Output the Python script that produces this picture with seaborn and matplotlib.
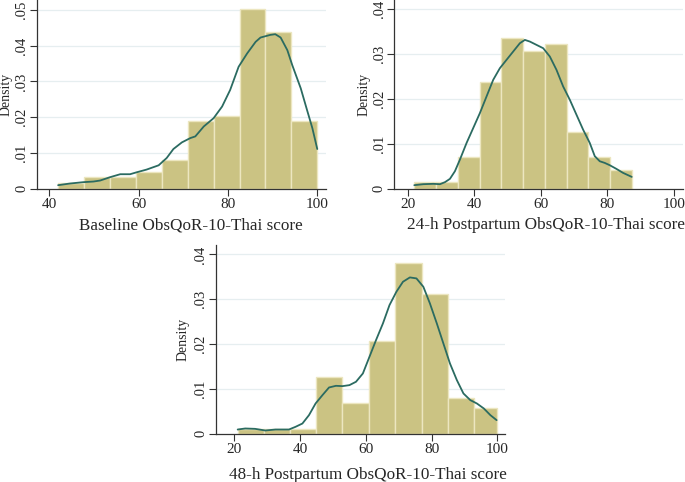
import numpy as np
import seaborn as sns
import matplotlib.pyplot as plt

# --- Baseline
base_edges = [42.0, 47.8, 53.6, 59.4, 65.2, 71.0, 76.8, 82.6, 88.4, 94.2, 100.0]
base_dens = [0.00167, 0.00316, 0.00316, 0.00474, 0.0079, 0.01877, 0.02035, 0.0502, 0.04396, 0.01877]
base_kx = [42.0, 44.6, 47.6, 49.9, 51.4, 53.6, 55.9, 58.1, 59.6, 61.8, 64.5, 66.3, 67.8, 69.7,
           71.6, 72.7, 74.6, 76.8, 78.7, 80.5, 82.4, 84.3, 86.2, 87.3, 88.4, 89.5, 90.6, 91.8,
           93.3, 94.4, 96.3, 97.7, 98.9, 100.0]
base_ky = [0.00093, 0.00139, 0.00177, 0.00195, 0.00223, 0.00316, 0.0040, 0.0040, 0.00455, 0.0053,
           0.0065, 0.00855, 0.01106, 0.01292, 0.01413, 0.01459, 0.01738, 0.0197, 0.02296, 0.0276,
           0.03411, 0.03783, 0.04108, 0.04229, 0.04266, 0.04303, 0.04322, 0.04229, 0.03875,
           0.03457, 0.02807, 0.02203, 0.01691, 0.01106]

# --- 24-h postpartum
pp24_edges = [22.0, 28.53, 35.06, 41.59, 48.12, 54.65, 61.18, 67.71, 74.24, 80.77, 87.3]
pp24_dens = [0.0014, 0.0014, 0.00704, 0.02378, 0.03356, 0.03074, 0.03222, 0.01259, 0.00704, 0.00422]
pp24_kx = [22.0, 24.7, 27.7, 29.7, 31.2, 32.7, 34.2, 35.7, 37.7, 39.7, 41.7, 43.7, 45.7, 47.7,
           49.7, 51.7, 53.7, 55.2, 56.7, 58.7, 60.7, 62.7, 64.7, 66.7, 68.7, 70.7, 72.7, 74.7,
           76.2, 77.7, 79.2, 80.7, 82.7, 84.7, 87.3]
pp24_ky = [0.00074, 0.00096, 0.00104, 0.00096, 0.00141, 0.00215, 0.00385, 0.00644, 0.01015,
           0.01348, 0.01681, 0.02052, 0.02422, 0.02681, 0.02867, 0.03052, 0.03237, 0.03311,
           0.03274, 0.032, 0.03126, 0.02941, 0.02644, 0.02274, 0.01978, 0.01644, 0.01311,
           0.01015, 0.0072, 0.00607, 0.0057, 0.00519, 0.00437, 0.00348, 0.00259]

# --- 48-h postpartum
pp48_edges = [21.0, 28.9, 36.8, 44.7, 52.8, 61.0, 68.9, 77.0, 84.9, 92.8, 100.0]
pp48_dens = [0.0011, 0.0011, 0.0011, 0.01266, 0.00685, 0.02071, 0.03814, 0.03114, 0.00797, 0.00574]
pp48_kx = [21.0, 23.3, 26.3, 29.4, 32.5, 36.6, 38.6, 40.7, 42.7, 44.7, 46.8, 48.8, 50.9, 52.9,
           55.0, 57.0, 59.1, 61.1, 63.1, 65.2, 67.2, 69.3, 71.3, 73.4, 75.4, 77.5, 79.5, 81.6,
           83.6, 85.6, 87.7, 89.7, 91.8, 93.8, 95.9, 97.9, 99.8]
pp48_ky = [0.00089, 0.00112, 0.00104, 0.00067, 0.00089, 0.00089, 0.00149, 0.00223, 0.0041,
           0.0067, 0.00857, 0.01028, 0.01065, 0.01058, 0.0108, 0.01155, 0.01341, 0.01713,
           0.02086, 0.02458, 0.02868, 0.03166, 0.03389, 0.03486, 0.03464, 0.03277, 0.02905,
           0.02458, 0.0201, 0.01564, 0.01192, 0.00894, 0.00745, 0.0067, 0.00559, 0.0041, 0.00298]

xlabels = ["Baseline ObsQoR-10-Thai score",
           "24-h Postpartum ObsQoR-10-Thai score",
           "48-h Postpartum ObsQoR-10-Thai score"]

sns.set_style("white")
plt.rcParams['font.family'] = ['Liberation Serif', 'DejaVu Serif']

bar_col = "#cbc383"
line_col = "#2b6b61"

fig = plt.figure(figsize=(6.85, 4.82), dpi=100)

panels = [
    # rect, edges, dens, kx, ky, xlim, ylim, xticks, yticks, xlabel, ylabel x, xlabel x, xlabel pad
    ([36.7/685, 1-188.5/482, 289.5/685, 188.5/482], base_edges, base_dens, base_kx, base_ky,
     (37.2, 102.0), (0, 0.0528), [40, 60, 80, 100], [0, .01, .02, .03, .04, .05], xlabels[0],
     -0.082, 0.533, 4.5),
    ([394/685, 1-188.5/482, 289/685, 188.5/482], pp24_edges, pp24_dens, pp24_kx, pp24_ky,
     (15.9, 102.7), (0, 0.042), [20, 40, 60, 80, 100], [0, .01, .02, .03, .04], xlabels[1],
     -0.080, 0.526, 4.5),
    ([215.5/685, 1-433.5/482, 290/685, 188.5/482], pp48_edges, pp48_dens, pp48_kx, pp48_ky,
     (14.25, 102.5), (0, 0.0421), [20, 40, 60, 80, 100], [0, .01, .02, .03, .04], xlabels[2],
     -0.091, 0.524, 7.5),
]

for rect, edges, dens, kx, ky, xlim, ylim, xt, yt, xl, ylx, xlx, xpad in panels:
    ax = fig.add_axes(rect)
    centers = [(a + b) / 2 for a, b in zip(edges[:-1], edges[1:])]
    for y in yt[1:]:
        ax.axhline(y, color="#e6eef0", lw=0.9, zorder=0)
    sns.histplot(x=centers, weights=dens, bins=edges, stat="count", ax=ax,
                 color=bar_col, alpha=1, edgecolor="#ece6c0", linewidth=1.0, zorder=2)
    sns.lineplot(x=kx, y=ky, ax=ax, color=line_col, lw=1.3, sort=False, zorder=3)
    ax.set_xlim(*xlim)
    ax.set_ylim(*ylim)
    ax.set_xticks(xt)
    ax.set_xticklabels([str(v) for v in xt], fontsize=11)
    ax.set_yticks(yt)
    ax.set_yticklabels(["0"] + [("%.2f" % v)[1:] for v in yt[1:]], fontsize=10.5,
                       rotation=90, va="center")
    ax.set_xlabel(xl, fontsize=12.3, labelpad=xpad)
    ax.xaxis.label.set_x(xlx)
    ax.set_ylabel("Density", fontsize=10)
    ax.yaxis.set_label_coords(ylx, 0.5)
    ax.tick_params(axis="both", direction="out", length=5, width=0.8, color="#333333",
                   left=True, bottom=True, pad=2)
    ax.tick_params(axis="y", pad=1)
    for s in ["top", "right"]:
        ax.spines[s].set_visible(False)
    for s in ["left", "bottom"]:
        ax.spines[s].set_color("#333333")
        ax.spines[s].set_linewidth(0.9)

fig.savefig("out.png", dpi=100)
